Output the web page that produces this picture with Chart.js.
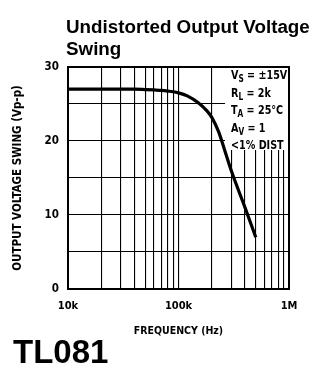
<!DOCTYPE html>
<html>
<head>
<meta charset="utf-8">
<script src="https://cdn.jsdelivr.net/npm/chart.js@4/dist/chart.umd.min.js"></script>
<style>
  html, body { margin: 0; padding: 0; background: #fff; }
  #wrap { position: relative; width: 329px; height: 380px; }
  #title { position: absolute; left: 66px; top: 16px; font: bold 18.8px "Liberation Sans", Arial, sans-serif; line-height: 22px; color: #000; }
  #part { position: absolute; left: 13px; top: 333px; font: bold 33px "Liberation Sans", Arial, sans-serif; color: #000; }
  canvas { position: absolute; left: 0; top: 0; }
</style>
</head>
<body>
<div id="wrap">
  <canvas id="myChart" width="329" height="380"></canvas>
  <div id="title">Undistorted Output Voltage<br>Swing</div>
  <div id="part">TL081</div>
</div>
<script>
/*----------------------------------------------------------------------------*/
/* Data                                                                       */
/*----------------------------------------------------------------------------*/
const frequency_hz = [10000, 20000, 30000, 40000, 50000, 60000, 70000, 80000, 100000,
                      120000, 150000, 180000, 200000, 230000, 260000, 300000, 400000, 500000];
const swing_vpp = [27, 27, 27, 27, 26.95, 26.9, 26.85, 26.75, 26.5,
                   26.1, 25.2, 24.1, 23.2, 21.3, 18.9, 16, 11, 7];

// grid lines on the log axis, labels only at the decades
const x_grid_values = [10000, 20000, 30000, 40000, 50000, 60000, 70000, 80000, 90000,
                       100000, 200000, 300000, 400000, 500000, 600000, 700000, 800000, 900000, 1000000];
const x_tick_labels = { 10000: "10k", 100000: "100k", 1000000: "1M" };
const y_tick_labels = ["0", "10", "20", "30"];

const conditions = [
    ["V", "S", " = \u00b115V"],
    ["R", "L", " = 2k"],
    ["T", "A", " = 25\u00b0C"],
    ["A", "V", " = 1"],
    ["<1% DIST", "", ""]
];

const cond_font = '"Liberation Sans Narrow", "DejaVu Sans Condensed", Arial, sans-serif';

/*----------------------------------------------------------------------------*/
/* Conditions box                                                             */
/*----------------------------------------------------------------------------*/
const conditions_box = {
    id: "conditions_box",
    beforeDatasetsDraw(chart) {
        const ctx = chart.ctx;
        const area = chart.chartArea;
        const left = 225;
        const top = area.top + 1;
        ctx.save();
        ctx.fillStyle = "#fff";
        ctx.fillRect(left, top, area.right - left - 1, 82);
        ctx.fillStyle = "#000";
        ctx.textBaseline = "alphabetic";
        // squeeze the text sideways, the original type is very condensed
        const squeeze = 0.82;
        ctx.translate(231, 0);
        ctx.scale(squeeze, 1);
        let y = 79;
        for (const [main, sub, rest] of conditions) {
            let x = 0;
            ctx.font = "bold 13px " + cond_font;
            ctx.fillText(main, x, y);
            x += ctx.measureText(main).width;
            if (sub != "") {
                ctx.font = "bold 10px " + cond_font;
                ctx.fillText(sub, x, y + 3);
                x += ctx.measureText(sub).width;
            }
            ctx.font = "bold 13px " + cond_font;
            ctx.fillText(rest, x, y);
            y += 17.5;
        }
        ctx.restore();
    }
};

// top and right frame lines
const frame = {
    id: "frame",
    afterDraw(chart) {
        const ctx = chart.ctx;
        const a = chart.chartArea;
        ctx.save();
        ctx.strokeStyle = "#000";
        ctx.lineWidth = 2;
        ctx.strokeRect(a.left, a.top, a.right - a.left, a.bottom - a.top);
        ctx.restore();
    }
};

/*----------------------------------------------------------------------------*/
/* Chart                                                                      */
/*----------------------------------------------------------------------------*/
const points = frequency_hz.map((f, i) => ({ x: f, y: swing_vpp[i] }));

const config = {
    type: "line",
    data: {
        datasets: [{
            data: points,
            borderColor: "#000",
            borderWidth: 3.2,
            pointRadius: 0,
            cubicInterpolationMode: "monotone",
            fill: false
        }]
    },
    options: {
        responsive: false,
        animation: false,
        layout: { padding: { top: 67, right: 40, left: 0, bottom: 40 } },
        plugins: { legend: { display: false }, tooltip: { enabled: false }, title: { display: false } },
        scales: {
            x: {
                type: "logarithmic",
                min: 10000,
                max: 1000000,
                afterBuildTicks: function (scale) {
                    scale.ticks = x_grid_values.map(v => ({ value: v }));
                },
                afterFit: function (scale) { scale.height = 51; },
                grid: { color: "#000", lineWidth: 1.1, drawTicks: false },
                border: { color: "#000", width: 2 },
                ticks: {
                    autoSkip: false,
                    maxRotation: 0,
                    padding: 11,
                    color: "#000",
                    font: { family: cond_font, weight: "bold", size: 11 },
                    callback: function (value) {
                        return x_tick_labels[value] || "";
                    }
                },
                title: {
                    display: true,
                    text: "FREQUENCY (Hz)",
                    color: "#000",
                    font: { family: cond_font, weight: "bold", size: 10.5 },
                    padding: { top: 0, bottom: 2 }
                }
            },
            y: {
                min: 0,
                max: 30,
                afterFit: function (scale) { scale.width = 68; },
                grid: { color: "#000", lineWidth: 1.1, drawTicks: false },
                border: { color: "#000", width: 2 },
                ticks: {
                    stepSize: 5,
                    padding: 9,
                    color: "#000",
                    font: { family: cond_font, weight: "bold", size: 11.5 },
                    callback: function (value) {
                        return value % 10 == 0 ? y_tick_labels[value / 10] : "";
                    }
                },
                title: {
                    display: true,
                    text: "OUTPUT VOLTAGE SWING (Vp-p)",
                    color: "#000",
                    font: { family: cond_font, weight: "bold", size: 11.5 },
                    padding: { top: 11, bottom: 0 }
                }
            }
        }
    },
    plugins: [conditions_box, frame]
};

const chart_tag = document.getElementById("myChart");
const myChart = new Chart(chart_tag.getContext("2d"), config);
</script>
</body>
</html>
